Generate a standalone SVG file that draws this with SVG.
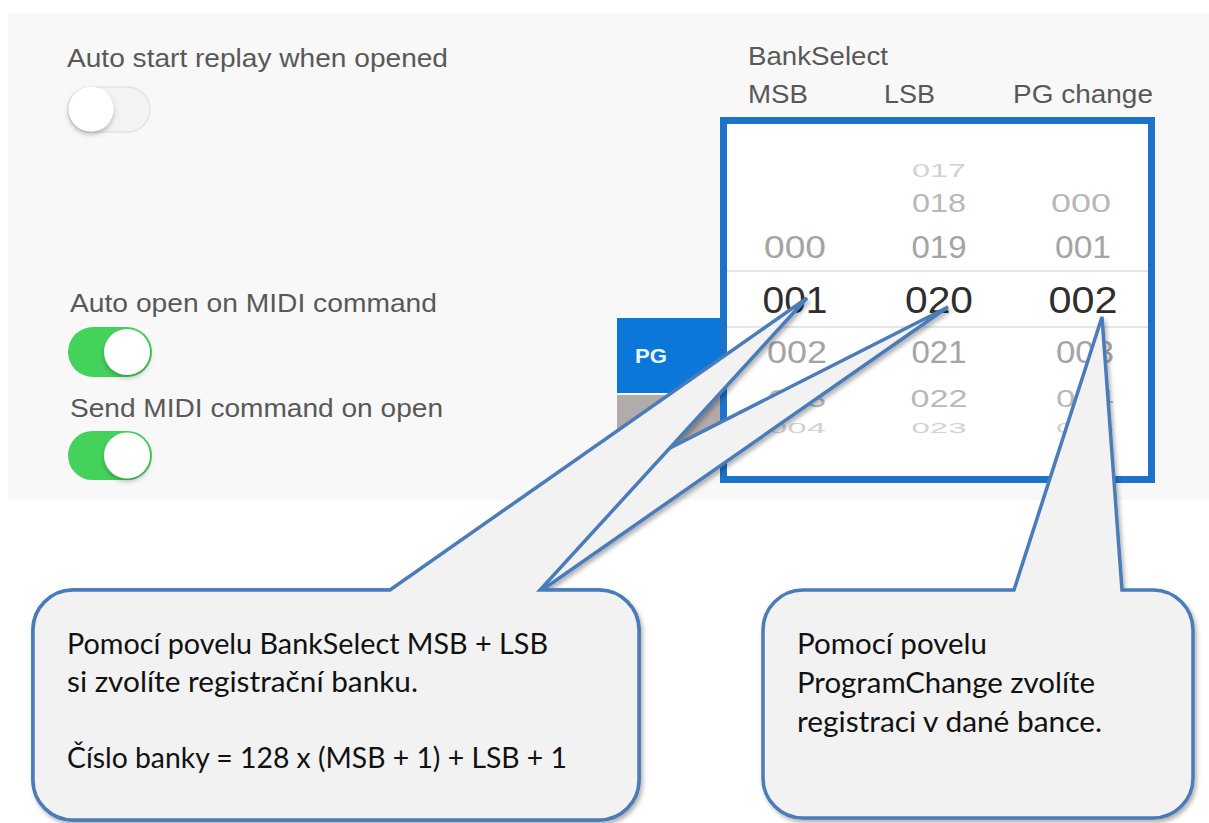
<svg xmlns="http://www.w3.org/2000/svg" width="1209" height="823" viewBox="0 0 1209 823">
<style>
.ui{font-family:"Liberation Sans",Arial,sans-serif;font-size:26px;fill:#585858}
.num{font-family:"Liberation Sans",Arial,sans-serif;text-anchor:middle}
.sel{font-size:36px;fill:#2e2e2e}
.r1{font-size:31px;fill:#a4a4a4}
.r2{font-size:29px;fill:#b8b8b8}
.r3{font-size:29px;fill:#d2d2d2}
.co{fill:#f2f2f2;stroke:#4a7bb9;stroke-width:3.5;stroke-linejoin:miter}
.ct{font-family:Lato,"Noto Sans",sans-serif;font-size:29.5px;fill:#111}
.knob{fill:#fff}
</style>
<defs>
<filter id="sh" x="-10%" y="-10%" width="130%" height="130%">
<feDropShadow dx="2" dy="3" stdDeviation="2" flood-color="#000" flood-opacity="0.3"/>
</filter>
<filter id="ks" x="-30%" y="-30%" width="160%" height="170%">
<feDropShadow dx="0" dy="3" stdDeviation="2.5" flood-color="#000" flood-opacity="0.25"/>
</filter>
</defs>
<rect x="0" y="0" width="1209" height="823" fill="#ffffff"/>
<g id="screenshot">
<rect x="8" y="14" width="1201" height="486" fill="#f8f8f8"/>
</g>
<g id="toggle-autostart">
<text class="ui" x="67" y="67" textLength="381" lengthAdjust="spacingAndGlyphs">Auto start replay when opened</text>
<rect x="68" y="87" width="82" height="45" rx="22.5" fill="#f3f3f3" stroke="#e3e3e3" stroke-width="1.5"/>
<circle class="knob" cx="91" cy="109" r="22.5" filter="url(#ks)"/>
</g>
<g id="toggle-autoopen">
<text class="ui" x="70" y="312" textLength="367" lengthAdjust="spacingAndGlyphs">Auto open on MIDI command</text>
<rect x="68" y="327" width="84" height="50" rx="25" fill="#45d25b"/>
<circle class="knob" cx="127" cy="352" r="23" filter="url(#ks)"/>
</g>
<g id="toggle-send">
<text class="ui" x="70" y="417" textLength="373" lengthAdjust="spacingAndGlyphs">Send MIDI command on open</text>
<rect x="68" y="431" width="84" height="49" rx="24.5" fill="#45d25b"/>
<circle class="knob" cx="127" cy="455.5" r="23" filter="url(#ks)"/>
</g>
<g id="picker-headers">
<text class="ui" x="748" y="65" textLength="140" lengthAdjust="spacingAndGlyphs">BankSelect</text>
<text class="ui" x="748" y="103" textLength="60" lengthAdjust="spacingAndGlyphs">MSB</text>
<text class="ui" x="884" y="103" textLength="51" lengthAdjust="spacingAndGlyphs">LSB</text>
<text class="ui" x="1013" y="103" textLength="140" lengthAdjust="spacingAndGlyphs">PG change</text>
</g>
<g id="tabs">
<rect x="617" y="318" width="104" height="75" fill="#0b78d9"/>
<text x="635" y="363" font-family="Liberation Sans,Arial,sans-serif" font-size="21" font-weight="bold" fill="#e8f4ff" textLength="32" lengthAdjust="spacingAndGlyphs">PG</text>
<rect x="617" y="395" width="104" height="53" fill="#b1aca9"/>
</g>
<g id="picker">
<rect x="723.5" y="120.5" width="428" height="359" fill="#ffffff" stroke="#1b74c9" stroke-width="7"/>
<line x1="727" y1="271" x2="1148" y2="271" stroke="#dcdcdc" stroke-width="1.5"/>
<line x1="727" y1="327" x2="1148" y2="327" stroke="#dcdcdc" stroke-width="1.5"/>
<text class="num r3" transform="translate(939,177) scale(1,0.62)" textLength="54" lengthAdjust="spacingAndGlyphs">017</text>
<text class="num r2" transform="translate(939,212) scale(1,0.88)" textLength="54" lengthAdjust="spacingAndGlyphs">018</text>
<text class="num r2" transform="translate(1081,212) scale(1,0.88)" textLength="60" lengthAdjust="spacingAndGlyphs">000</text>
<text class="num r1" x="795" y="258" textLength="62" lengthAdjust="spacingAndGlyphs">000</text>
<text class="num r1" x="939" y="258" textLength="55" lengthAdjust="spacingAndGlyphs">019</text>
<text class="num r1" x="1083" y="258" textLength="56" lengthAdjust="spacingAndGlyphs">001</text>
<text class="num sel" x="795" y="313" textLength="65" lengthAdjust="spacingAndGlyphs">001</text>
<text class="num sel" x="939" y="313" textLength="68" lengthAdjust="spacingAndGlyphs">020</text>
<text class="num sel" x="1083" y="313" textLength="69" lengthAdjust="spacingAndGlyphs">002</text>
<text class="num r1" x="797" y="363" textLength="60" lengthAdjust="spacingAndGlyphs">002</text>
<text class="num r1" x="939" y="363" textLength="55" lengthAdjust="spacingAndGlyphs">021</text>
<text class="num r1" x="1085" y="363" textLength="58" lengthAdjust="spacingAndGlyphs">003</text>
<text class="num r2" transform="translate(797,407) scale(1,0.85)" textLength="58" lengthAdjust="spacingAndGlyphs">003</text>
<text class="num r2" transform="translate(939,407) scale(1,0.85)" textLength="57" lengthAdjust="spacingAndGlyphs">022</text>
<text class="num r2" transform="translate(1085,407) scale(1,0.85)" textLength="58" lengthAdjust="spacingAndGlyphs">004</text>
<text class="num r3" transform="translate(797,433) scale(1,0.5)" textLength="58" lengthAdjust="spacingAndGlyphs">004</text>
<text class="num r3" transform="translate(939,433) scale(1,0.5)" textLength="55" lengthAdjust="spacingAndGlyphs">023</text>
<text class="num r3" transform="translate(1085,433) scale(1,0.5)" textLength="58" lengthAdjust="spacingAndGlyphs">005</text>
</g>
<g id="callout-banks" filter="url(#sh)">
<path class="co" d="M73,590 L390,590 L948,307 L542,590 L599,590 A40,40 0 0 1 639,630 L639,780 A40,40 0 0 1 599,820 L73,820 A40,40 0 0 1 33,780 L33,630 A40,40 0 0 1 73,590 Z"/>
<path class="co" d="M73,590 L390,590 L807,298 L540,590 L599,590 A40,40 0 0 1 639,630 L639,780 A40,40 0 0 1 599,820 L73,820 A40,40 0 0 1 33,780 L33,630 A40,40 0 0 1 73,590 Z"/>
</g>
<g id="callout-banks-text">
<text class="ct" x="67" y="654" textLength="481" lengthAdjust="spacingAndGlyphs">Pomocí povelu BankSelect MSB + LSB</text>
<text class="ct" x="67" y="692" textLength="351" lengthAdjust="spacingAndGlyphs">si zvolíte registrační banku.</text>
<text class="ct" x="67" y="768" textLength="500" lengthAdjust="spacingAndGlyphs">Číslo banky = 128 x (MSB + 1) + LSB + 1</text>
</g>
<g id="callout-program" filter="url(#sh)">
<path class="co" d="M803,590 L1014,590 L1102,317 L1122,590 L1153,590 A40,40 0 0 1 1193,630 L1193,778 A40,40 0 0 1 1153,818 L803,818 A40,40 0 0 1 763,778 L763,630 A40,40 0 0 1 803,590 Z"/>
</g>
<g id="callout-program-text">
<text class="ct" x="797" y="654" textLength="190" lengthAdjust="spacingAndGlyphs">Pomocí povelu</text>
<text class="ct" x="797" y="693" textLength="298" lengthAdjust="spacingAndGlyphs">ProgramChange zvolíte</text>
<text class="ct" x="797" y="732" textLength="305" lengthAdjust="spacingAndGlyphs">registraci v dané bance.</text>
</g>
<g id="connectors"></g>
</svg>
